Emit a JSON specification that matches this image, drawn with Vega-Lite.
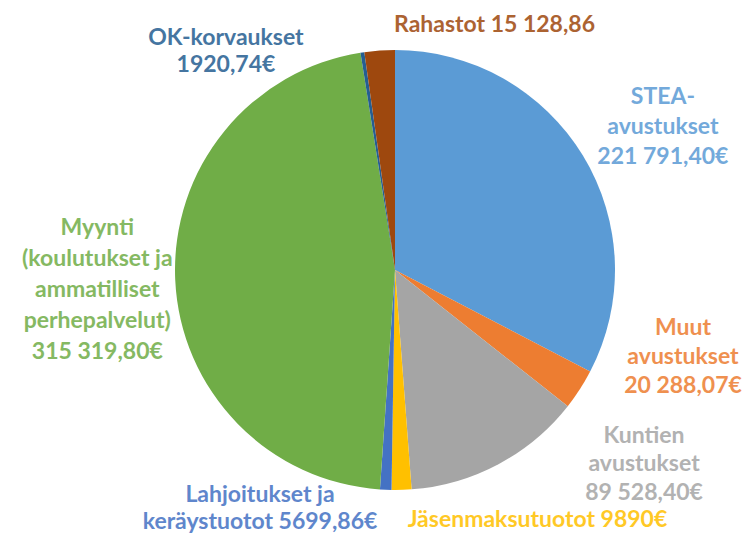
{
  "$schema": "https://vega.github.io/schema/vega-lite/v6.json",
  "width": 720,
  "height": 530,
  "autosize": "none",
  "padding": {"left": 35, "right": 0, "top": 5, "bottom": 0},
  "background": "white",
  "config": {"view": {"stroke": null}},
  "data": {"values": [
    {"i": 1, "name": "STEA", "value": 221791.40, "label": "STEA-\navustukset\n221 791,40€"},
    {"i": 2, "name": "Muut", "value": 20288.07, "label": "Muut\navustukset\n20 288,07€"},
    {"i": 3, "name": "Kuntien", "value": 89528.40, "label": "Kuntien\navustukset\n89 528,40€"},
    {"i": 4, "name": "Jäsen", "value": 9890, "label": "Jäsenmaksutuotot 9890€"},
    {"i": 5, "name": "Lahjo", "value": 5699.86, "label": "Lahjoitukset ja\nkeräystuotot 5699,86€"},
    {"i": 6, "name": "Myynti", "value": 315319.80, "label": "Myynti\n(koulutukset ja\nammatilliset\nperhepalvelut)\n315 319,80€"},
    {"i": 7, "name": "OK", "value": 1920.74, "label": "OK-korvaukset\n1920,74€"},
    {"i": 8, "name": "Rahastot", "value": 15128.86, "label": "Rahastot 15 128,86"}
  ]},
  "encoding": {
    "theta": {"field": "value", "type": "quantitative", "stack": true},
    "order": {"field": "i", "type": "quantitative"},
    "color": {
      "field": "name", "type": "nominal", "legend": null,
      "scale": {
        "domain": ["STEA", "Muut", "Kuntien", "Jäsen", "Lahjo", "Myynti", "OK", "Rahastot"],
        "range": ["#5B9BD5", "#ED7D31", "#A5A5A5", "#FFC000", "#4472C4", "#70AD47", "#255E91", "#9E480E"]
      }
    }
  },
  "layer": [
    {"mark": {"type": "arc", "outerRadius": 220}},
    {"mark": {"type": "text", "radius": 304, "dx": 8, "dy": -15, "font": "Lato", "fontWeight": "bold", "fontSize": 23, "lineHeight": 30, "lineBreak": "\n", "align": "center", "baseline": "middle", "opacity": 0.85},
     "encoding": {"text": {"condition": {"test": "datum.name === 'STEA'", "field": "label"}, "value": ""}}},
    {"mark": {"type": "text", "radius": 300, "dx": 36, "dy": -105, "font": "Lato", "fontWeight": "bold", "fontSize": 23, "lineHeight": 29, "lineBreak": "\n", "align": "center", "baseline": "middle", "opacity": 0.85},
     "encoding": {"text": {"condition": {"test": "datum.name === 'Muut'", "field": "label"}, "value": ""}}},
    {"mark": {"type": "text", "radius": 300, "dx": 108, "dy": -99, "font": "Lato", "fontWeight": "bold", "fontSize": 23, "lineHeight": 28.5, "lineBreak": "\n", "align": "center", "baseline": "middle", "opacity": 0.85},
     "encoding": {"text": {"condition": {"test": "datum.name === 'Kuntien'", "field": "label"}, "value": ""}}},
    {"mark": {"type": "text", "radius": 250, "dx": 135, "dy": 0, "font": "Lato", "fontWeight": "bold", "fontSize": 23, "lineHeight": 29, "lineBreak": "\n", "align": "center", "baseline": "middle", "opacity": 0.85},
     "encoding": {"text": {"condition": {"test": "datum.name === 'Jäsen'", "field": "label"}, "value": ""}}},
    {"mark": {"type": "text", "radius": 237, "dx": -125, "dy": -12, "font": "Lato", "fontWeight": "bold", "fontSize": 23, "lineHeight": 27, "lineBreak": "\n", "align": "center", "baseline": "middle", "opacity": 0.85},
     "encoding": {"text": {"condition": {"test": "datum.name === 'Lahjo'", "field": "label"}, "value": ""}}},
    {"mark": {"type": "text", "radius": 305, "dx": 7, "dy": -56, "font": "Lato", "fontWeight": "bold", "fontSize": 23, "lineHeight": 31, "lineBreak": "\n", "align": "center", "baseline": "middle", "opacity": 0.85},
     "encoding": {"text": {"condition": {"test": "datum.name === 'Myynti'", "field": "label"}, "value": ""}}},
    {"mark": {"type": "text", "radius": 250, "dx": -132, "dy": 15, "font": "Lato", "fontWeight": "bold", "fontSize": 23, "lineHeight": 27, "lineBreak": "\n", "align": "center", "baseline": "middle", "opacity": 0.85},
     "encoding": {"text": {"condition": {"test": "datum.name === 'OK'", "field": "label"}, "value": ""}}},
    {"mark": {"type": "text", "radius": 250, "dx": 117, "dy": 4, "font": "Lato", "fontWeight": "bold", "fontSize": 23, "lineHeight": 28, "lineBreak": "\n", "align": "center", "baseline": "middle", "opacity": 0.85},
     "encoding": {"text": {"condition": {"test": "datum.name === 'Rahastot'", "field": "label"}, "value": ""}}}
  ]
}
